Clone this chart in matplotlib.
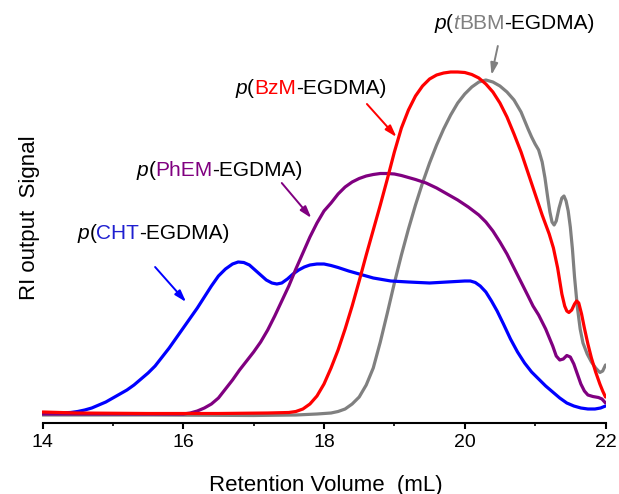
"""GPC traces of the four branched copolymers (RI detector)"""
import matplotlib
matplotlib.use("Agg")
import matplotlib.pyplot as plt
from matplotlib.offsetbox import TextArea, HPacker, AnnotationBbox
from matplotlib.ticker import MultipleLocator

plt.rcParams['font.family'] = ['Liberation Sans', 'DejaVu Sans']

# retention volume (mL) and RI signal (arbitrary units)
cht_vol = [14.0, 14.2, 14.4, 14.5, 14.6, 14.7, 14.8, 14.9, 15.0, 15.1, 15.2, 15.3, 15.4,
           15.5, 15.6, 15.7, 15.8, 15.9, 16.0, 16.1, 16.2, 16.3, 16.4, 16.5, 16.6, 16.7,
           16.78, 16.86, 16.94, 17.02, 17.1, 17.18, 17.26, 17.33, 17.4, 17.48, 17.56,
           17.64, 17.72, 17.8, 17.9, 18.0, 18.1, 18.2, 18.35, 18.5, 18.7, 18.95, 19.2,
           19.5, 19.75, 20.0, 20.08, 20.15, 20.22, 20.3, 20.38, 20.46, 20.55, 20.65,
           20.75, 20.85, 20.95, 21.05, 21.15, 21.25, 21.35, 21.45, 21.55, 21.65, 21.75,
           21.85, 21.93, 22.0]
cht_sig = [1, 1, 1.5, 2.5, 4, 6, 9, 12, 16, 20, 24, 29, 35,
           41, 48, 57, 66, 76, 86, 96, 106, 117, 128, 138, 145, 150,
           152, 151.5, 149, 144, 139, 134, 131, 130, 131, 135, 140,
           144, 147, 149, 150, 150, 148.5, 146.5, 143, 140, 136, 133, 132,
           131, 132, 133, 133, 131.5, 128, 122, 113, 103, 90, 75,
           62, 51, 42, 35, 28, 22, 16, 11, 8, 6, 5,
           5, 6, 8]

phem_vol = [14.0, 15.0, 16.0, 16.1, 16.2, 16.3, 16.4, 16.5, 16.6, 16.7, 16.8, 16.9, 17.0,
            17.1, 17.2, 17.3, 17.4, 17.5, 17.6, 17.7, 17.8, 17.9, 18.0, 18.1, 18.2, 18.3,
            18.4, 18.5, 18.6, 18.7, 18.8, 18.9, 19.0, 19.1, 19.2, 19.3, 19.45, 19.6,
            19.75, 19.9, 20.05, 20.2, 20.3, 20.4, 20.5, 20.6, 20.7, 20.8, 20.9, 20.97,
            21.05, 21.15, 21.25, 21.3, 21.35, 21.4, 21.45, 21.5, 21.55, 21.6, 21.65,
            21.7, 21.75, 21.82, 21.9, 21.95, 22.0]
phem_sig = [0, 0, 0, 1, 3, 6, 10, 16, 25, 34, 44, 53, 62,
            72, 84, 98, 113, 128, 145, 161, 177, 191, 203, 211, 220, 227,
            232, 235.5, 238, 239.5, 240.5, 240.5, 240, 238.5, 236.5, 234.5, 231, 226,
            220, 214, 207, 199, 192, 183, 172, 160, 146, 132, 118, 108,
            99, 85, 68, 58, 54, 55, 58.5, 57, 50, 40, 30,
            23, 19, 17.5, 16.5, 15, 11]

bzm_vol = [14.0, 14.5, 15.5, 16.5, 17.2, 17.5, 17.6, 17.7, 17.8, 17.9, 18.0, 18.1,
           18.2, 18.3, 18.4, 18.5, 18.6, 18.7, 18.8, 18.9, 19.0, 19.1, 19.2, 19.3,
           19.4, 19.5, 19.6, 19.7, 19.8, 19.9, 20.0, 20.1, 20.2, 20.3, 20.4, 20.5,
           20.6, 20.7, 20.8, 20.9, 21.0, 21.1, 21.2, 21.26, 21.32, 21.38, 21.42, 21.45,
           21.48, 21.52, 21.56, 21.59, 21.62, 21.66, 21.7, 21.75, 21.8, 21.86, 21.92,
           21.96, 22.0]
bzm_sig = [2, 1, 0.5, 0.5, 1, 1.5, 2.5, 5, 10, 18, 30, 46,
           64, 85, 108, 133, 159, 184, 209, 235, 262, 286, 304, 318,
           328, 335, 339, 341, 342, 342, 341.5, 339.5, 336, 330, 322, 311,
           297, 280, 262, 241, 220, 199, 180, 166, 146, 120, 108, 103,
           101.5, 104, 110, 113, 111, 100, 86, 70, 56, 42, 30,
           23, 17]

tbbm_vol = [14.0, 15.5, 17.0, 17.6, 17.9, 18.0, 18.1, 18.2, 18.3, 18.4, 18.5, 18.6,
            18.7, 18.8, 18.9, 19.0, 19.1, 19.2, 19.3, 19.4, 19.5, 19.6, 19.7, 19.8,
            19.9, 20.0, 20.1, 20.2, 20.3, 20.4, 20.5, 20.6, 20.7, 20.8, 20.9, 20.95,
            21.0, 21.05, 21.1, 21.14, 21.18, 21.21, 21.24, 21.27, 21.3, 21.34, 21.38,
            21.41, 21.44, 21.47, 21.5, 21.53, 21.56, 21.6, 21.64, 21.68, 21.74, 21.8,
            21.86, 21.92, 21.96, 22.0]
tbbm_sig = [-1, -1, -1.5, -1, 0, 0.5, 1, 2.5, 5, 10, 17, 29,
            46, 72, 101, 131, 159, 185, 209, 231, 251, 269, 285, 299,
            311, 320, 327, 332, 334, 332, 328, 322, 314, 302, 285, 277,
            270, 264, 252, 236, 216, 202, 192, 189, 193, 206, 216,
            218, 213, 203, 187, 165, 137, 107, 85, 71, 60, 52,
            46, 41.5, 43, 49]

x_ticks = [14, 16, 18, 20, 22]

traces = [
    (tbbm_vol, tbbm_sig, '#808080'),
    (cht_vol, cht_sig, '#0000ff'),
    (phem_vol, phem_sig, '#800080'),
    (bzm_vol, bzm_sig, '#ff0000'),
]

fig = plt.figure(figsize=(6.19, 4.94), dpi=100)
ax = fig.add_axes([42.5 / 619, 71 / 494, 563 / 619, 423 / 494])

for vol, sig, col in traces:
    ax.plot(vol, sig, color=col, lw=2.3, solid_joinstyle='round', solid_capstyle='round')

ax.set_xlim(14, 22)
ax.set_ylim(-9, 414)
ax.set_xticks(x_ticks)
ax.xaxis.set_minor_locator(MultipleLocator(1))
ax.set_yticks([])
for side in ['left', 'top', 'right']:
    ax.spines[side].set_visible(False)
ax.spines['bottom'].set_linewidth(1.5)
ax.tick_params(axis='x', which='major', direction='out', length=4, width=1.5,
               labelsize=14, pad=4)
ax.tick_params(axis='x', which='minor', direction='out', length=2.5, width=1.2)

ax.set_xlabel('Retention Volume  (mL)', fontsize=16, va='baseline')
ax.xaxis.set_label_coords(326 / 619, 3.5 / 494, transform=fig.transFigure)
ax.set_ylabel('RI output  Signal', fontsize=16, va='baseline')
ax.yaxis.set_label_coords(35.5 / 619, 1 - 217.5 / 494, transform=fig.transFigure)


def polymer_label(name, col, xy, italic_prefix=''):
    parts = [('p', 'black', 'italic'), ('(', 'black', 'normal')]
    if italic_prefix:
        parts.append((italic_prefix, col, 'italic'))
    parts += [(name, col, 'normal'), ('-EGDMA)', 'black', 'normal')]
    boxes = [TextArea(t, textprops=dict(color=c, style=s, fontsize=15)) for t, c, s in parts]
    pack = HPacker(children=boxes, align='baseline', pad=0, sep=0)
    ab = AnnotationBbox(pack, xy, frameon=False, box_alignment=(0.5, 0.5), pad=0)
    ax.add_artist(ab)


def arrow(start, tip, col):
    ax.annotate('', xy=tip, xytext=start,
                arrowprops=dict(arrowstyle='-|>,head_length=0.7,head_width=0.22',
                                color=col, lw=1.4, shrinkA=0, shrinkB=0))


polymer_label('CHT', '#1f1fd0', (15.58, 181))
arrow((15.60, 147), (16.04, 112), '#0000ff')
polymer_label('PhEM', '#800080', (16.52, 244))
arrow((17.40, 231), (17.82, 196), '#800080')
polymer_label('BzM', '#ff0000', (17.81, 326))
arrow((18.61, 310), (19.03, 277), '#ff0000')
polymer_label('BBM', '#808080', (20.71, 391), italic_prefix='t')
arrow((20.47, 368), (20.38, 339), '#808080')

fig.savefig('out.png', dpi=100)
